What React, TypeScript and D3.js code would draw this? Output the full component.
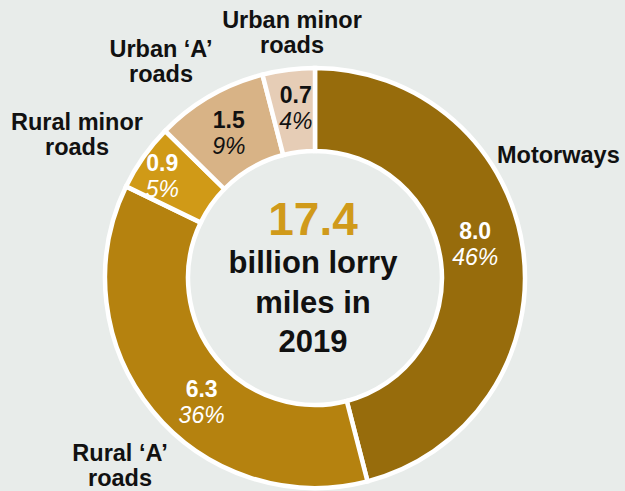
import React, { useEffect, useRef } from 'react';
import * as d3 from 'd3';

// lorry miles by road type, 2019 (billions)
const roadTypes = ['Motorways', 'Rural ‘A’ roads', 'Rural minor roads', 'Urban ‘A’ roads', 'Urban minor roads'];
const milesBn = [8.0, 6.3, 0.9, 1.5, 0.7];
const shares = ['46%', '36%', '5%', '9%', '4%'];
const sliceColors = ['#976c0c', '#b5820f', '#d09a17', '#d8b386', '#e6cdb6'];
const valueTextColors = ['#ffffff', '#ffffff', '#ffffff', '#111111', '#111111'];
const totalLabel = '17.4';
const centerLines = ['billion lorry', 'miles in', '2019'];

const App = () => {
    const svgRef = useRef<SVGSVGElement>(null);

    useEffect(() => {
        document.body.style.margin = '0';
        const width = 625;
        const height = 491;
        const cx = 315;
        const cy = 278;
        const outerR = 210;
        const innerR = 127;
        const font = "'Liberation Sans', Arial, sans-serif";

        const svg = d3.select(svgRef.current);
        svg.selectAll('*').remove();
        svg.attr('width', width).attr('height', height);

        svg.append('rect').attr('width', width).attr('height', height).attr('fill', '#e8ecea');

        const data = roadTypes.map((name, i) => ({ name, value: milesBn[i], i }));
        const pie = d3.pie<any>().value(d => d.value).sort(null);
        const arc = d3.arc<any>().innerRadius(innerR).outerRadius(outerR);
        const arcs = pie(data);

        const g = svg.append('g').attr('transform', `translate(${cx},${cy})`);

        g.selectAll('path.slice')
            .data(arcs)
            .enter()
            .append('path')
            .attr('class', 'slice')
            .attr('d', arc)
            .attr('fill', d => sliceColors[d.data.i])
            .attr('stroke', '#ffffff')
            .attr('stroke-width', 4.5);

        // value + share inside slices (offsets relative to centroid, nudged by eye)
        const nudge = [[-7, -10], [17, 20], [-15, -2], [-2, 4], [2, 0]];
        const mid = d3.arc<any>().innerRadius((innerR + outerR) / 2).outerRadius((innerR + outerR) / 2);
        arcs.forEach(d => {
            const [x, y] = mid.centroid(d);
            const [nx, ny] = nudge[d.data.i];
            const t = g.append('text')
                .attr('text-anchor', 'middle')
                .attr('font-family', font)
                .attr('fill', valueTextColors[d.data.i]);
            t.append('tspan')
                .attr('x', x + nx).attr('y', y + ny - 8)
                .attr('font-weight', 'bold').attr('font-size', 23)
                .text(d.data.value.toFixed(1));
            t.append('tspan')
                .attr('x', x + nx).attr('y', y + ny + 18)
                .attr('font-style', 'italic').attr('font-size', 23)
                .text(shares[d.data.i]);
        });

        // category labels outside
        const labels = [
            { lines: ['Motorways'], x: 497, y: 163, anchor: 'start' },
            { lines: ['Rural ‘A’', 'roads'], x: 120, y: 461, anchor: 'middle' },
            { lines: ['Rural minor', 'roads'], x: 77, y: 130, anchor: 'middle' },
            { lines: ['Urban ‘A’', 'roads'], x: 161, y: 57, anchor: 'middle' },
            { lines: ['Urban minor', 'roads'], x: 292, y: 28, anchor: 'middle' },
        ];
        labels.forEach(l => {
            const t = svg.append('text')
                .attr('text-anchor', l.anchor)
                .attr('font-family', font)
                .attr('font-weight', 'bold')
                .attr('font-size', 23.5)
                .attr('fill', '#111111');
            l.lines.forEach((s, k) => {
                t.append('tspan').attr('x', l.x).attr('y', l.y + k * 24.5).text(s);
            });
        });

        // centre total
        svg.append('text')
            .attr('x', cx - 2).attr('y', 235)
            .attr('text-anchor', 'middle')
            .attr('font-family', font).attr('font-weight', 'bold').attr('font-size', 46)
            .attr('fill', '#d09a1a')
            .text(totalLabel);
        centerLines.forEach((s, k) => {
            svg.append('text')
                .attr('x', cx - 2).attr('y', 273 + k * 39.5)
                .attr('text-anchor', 'middle')
                .attr('font-family', font).attr('font-weight', 'bold').attr('font-size', 31)
                .attr('fill', '#111111')
                .text(s);
        });
    }, []);

    return <svg ref={svgRef} style={{ display: 'block' }}></svg>;
};

export default App;
